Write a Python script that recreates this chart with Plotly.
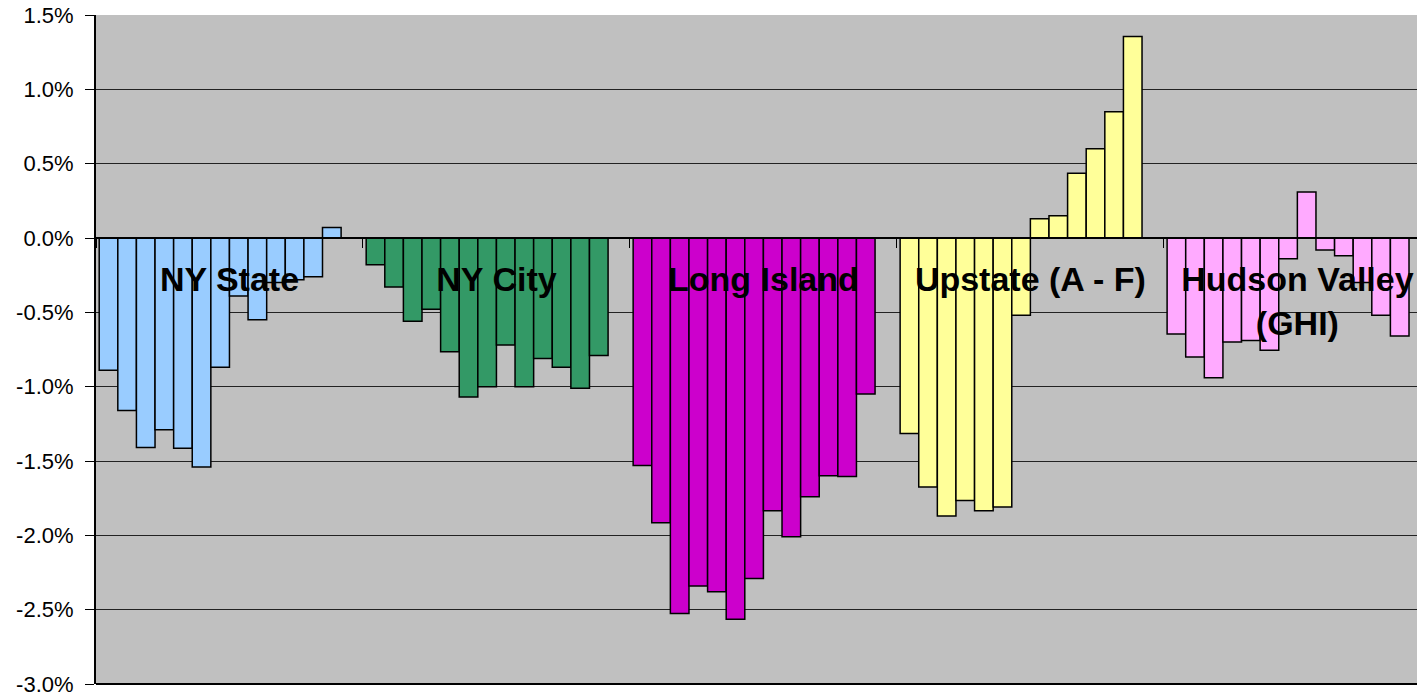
import plotly.graph_objects as go

# ---- data (percent change, 13 periods per region) ----
regions = ["NY State", "NY City", "Long Island", "Upstate (A - F)", "Hudson Valley<br>(GHI)"]
region_colors = ["#99CCFF", "#339966", "#CC00CC", "#FFFF99", "#FFAAFF"]

ny_state = [-0.89, -1.16, -1.41, -1.29, -1.415, -1.54, -0.87, -0.39, -0.55, -0.30, -0.28, -0.26, 0.07]
ny_city = [-0.18, -0.33, -0.56, -0.48, -0.765, -1.07, -1.00, -0.72, -1.00, -0.81, -0.87, -1.01, -0.79]
long_island = [-1.53, -1.915, -2.525, -2.34, -2.38, -2.565, -2.29, -1.835, -2.01, -1.74, -1.60, -1.605, -1.05]
upstate = [-1.315, -1.675, -1.87, -1.765, -1.835, -1.81, -0.52, 0.13, 0.15, 0.435, 0.60, 0.85, 1.355]
hudson_valley = [-0.645, -0.80, -0.94, -0.70, -0.69, -0.755, -0.14, 0.31, -0.08, -0.12, -0.30, -0.52, -0.66]

ytick_vals = [1.5, 1.0, 0.5, 0.0, -0.5, -1.0, -1.5, -2.0, -2.5, -3.0]
ytick_text = ["1.5%", "1.0%", "0.5%", "0.0%", "-0.5%", "-1.0%", "-1.5%", "-2.0%", "-2.5%", "-3.0%"]

series = [ny_state, ny_city, long_island, upstate, hudson_valley]
n_periods = len(ny_state)

fig = go.Figure()
slot = 0.0697
pad = 0.012
for i in range(n_periods):
    fig.add_trace(go.Bar(
        x=regions,
        y=[s[i] for s in series],
        marker=dict(color=region_colors, line=dict(color="black", width=1.5)),
        width=slot,
        offset=-0.5 + pad + i * slot,
        showlegend=False,
        hoverinfo="y",
    ))

fig.update_layout(
    width=1417, height=687,
    margin=dict(l=88, r=0, t=7, b=11),
    paper_bgcolor="white",
    plot_bgcolor="#C0C0C0",
    barmode="group",
    font=dict(family="Liberation Sans, Arial, sans-serif", color="black"),
    xaxis=dict(
        type="category",
        range=[-0.5, 4.478],
        anchor="free",
        position=2/3,
        showline=True, linecolor="black", linewidth=1.5,
        ticks="outside", ticklen=9, tickcolor="black", tickwidth=1,
        tickson="boundaries",
        showgrid=False,
        tickangle=0,
        tickfont=dict(family="Liberation Sans, Arial, sans-serif", size=34, color="black", weight="bold"),
        ticklabelstandoff=11,
        automargin=False,
    ),
    yaxis=dict(
        range=[-3.0, 1.5],
        tickvals=ytick_vals, ticktext=ytick_text,
        showgrid=True, gridcolor="#222222", gridwidth=1,
        zeroline=False,
        showline=True, linecolor="black", linewidth=2,
        ticks="outside", ticklen=9, tickcolor="black",
        tickfont=dict(size=22, color="black"),
        ticklabelstandoff=7,
        ticklabeloverflow="allow",
        automargin=False,
    ),
    shapes=[dict(type="line", xref="paper", yref="paper", x0=0, x1=1, y0=0, y1=0,
                 line=dict(color="black", width=2))],
)

fig.write_html("out.html")
